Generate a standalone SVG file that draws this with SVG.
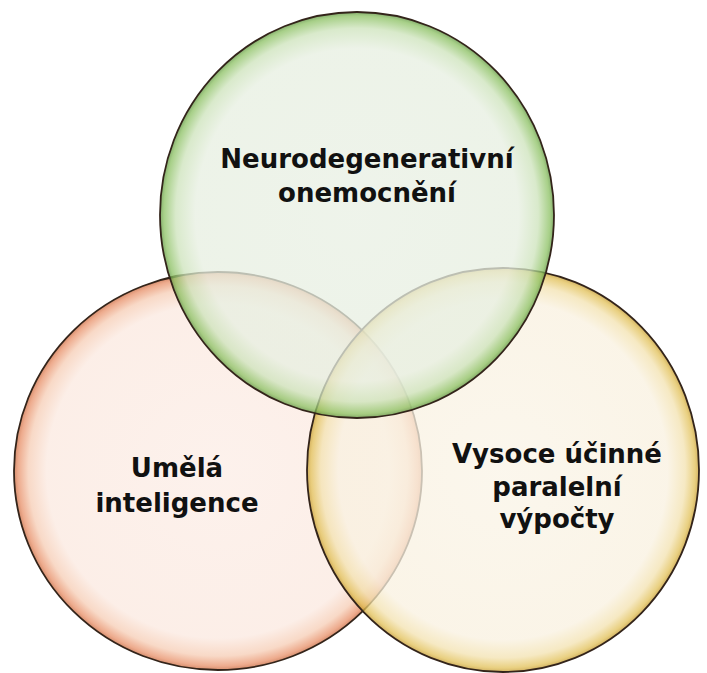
<svg xmlns="http://www.w3.org/2000/svg" width="707" height="673" viewBox="0 0 707 673">
<defs>
<radialGradient id="gG" cx="0.5" cy="0.5" r="0.5">
<stop offset="0" stop-color="#e9f0e4"/>
<stop offset="0.82" stop-color="#e7efe1"/>
<stop offset="0.92" stop-color="#cde3bb"/>
<stop offset="0.98" stop-color="#8cc163"/>
<stop offset="1" stop-color="#5f9440"/>
</radialGradient>
<radialGradient id="gO" cx="0.5" cy="0.5" r="0.5">
<stop offset="0" stop-color="#fcede6"/>
<stop offset="0.84" stop-color="#fbe9e0"/>
<stop offset="0.93" stop-color="#f6cdb5"/>
<stop offset="0.98" stop-color="#e8916a"/>
<stop offset="1" stop-color="#c96a40"/>
</radialGradient>
<radialGradient id="gY" cx="0.5" cy="0.5" r="0.5">
<stop offset="0" stop-color="#faf4e7"/>
<stop offset="0.84" stop-color="#f9f1e0"/>
<stop offset="0.93" stop-color="#f3e2b0"/>
<stop offset="0.98" stop-color="#e2c159"/>
<stop offset="1" stop-color="#c49a30"/>
</radialGradient>
</defs>
<style>
.c{stroke:#33241a;stroke-width:1.8;fill-opacity:0.76}
.t{font-family:"DejaVu Sans","Noto Sans",sans-serif;font-weight:bold;font-size:26px;fill:#111;text-anchor:middle}
</style>
<g id="node-orange">
<ellipse class="c" cx="218" cy="471" rx="204" ry="199" fill="url(#gO)"/>
</g>
<g id="node-yellow">
<ellipse class="c" cx="503" cy="470" rx="196" ry="202" fill="url(#gY)"/>
</g>
<g id="node-green">
<ellipse class="c" cx="357" cy="215" rx="197" ry="203" fill="url(#gG)"/>
</g>
<g id="labels">
<text class="t" x="367" y="168">Neurodegenerativní</text>
<text class="t" x="367" y="202">onemocnění</text>
<text class="t" x="177" y="477">Umělá</text>
<text class="t" x="177" y="512">inteligence</text>
<text class="t" x="557" y="463">Vysoce účinné</text>
<text class="t" x="557" y="496">paralelní</text>
<text class="t" x="557" y="528">výpočty</text>
</g>
<g id="connectors"/>
</svg>
